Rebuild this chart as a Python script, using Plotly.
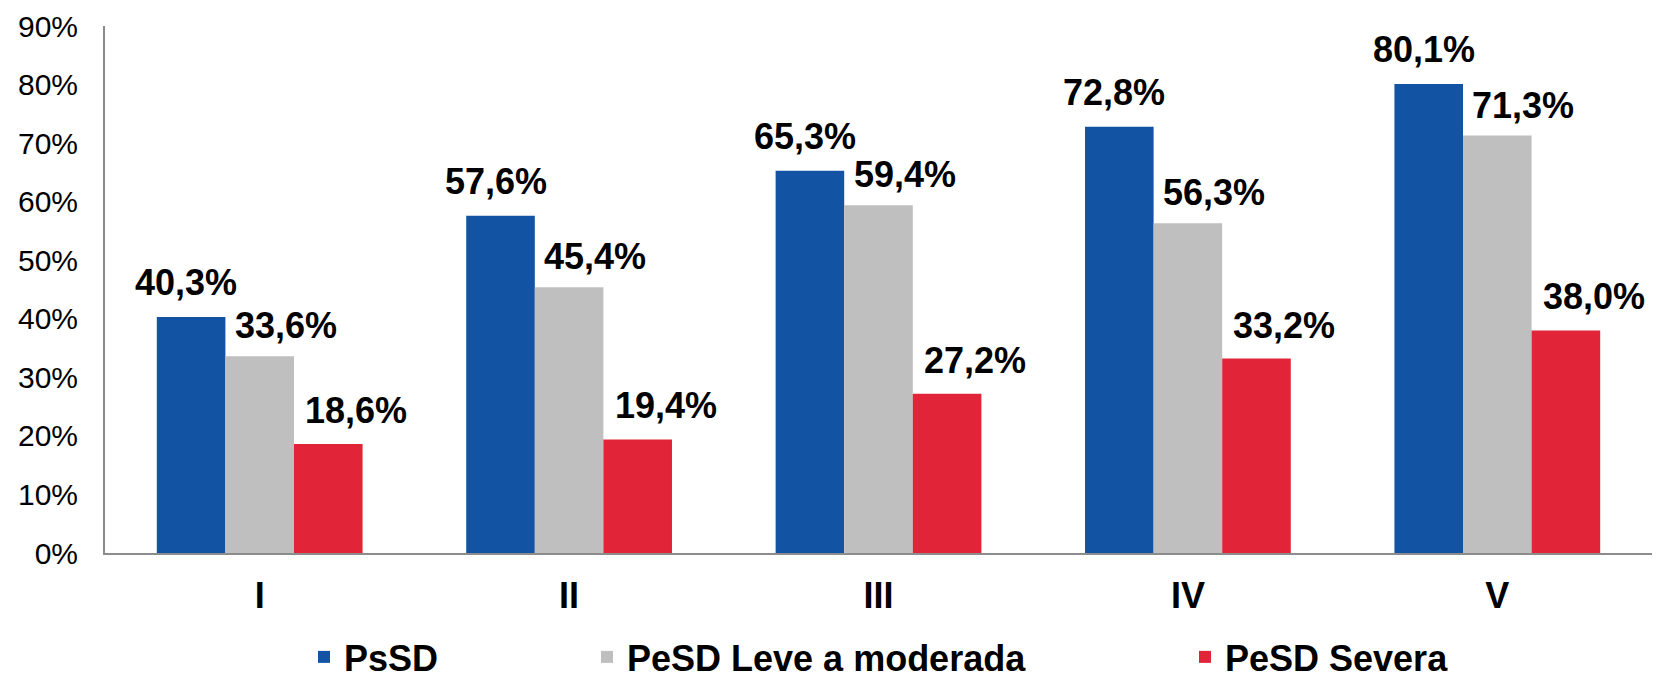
import plotly.graph_objects as go

# ---------------- data ----------------
categories = ["I", "II", "III", "IV", "V"]
psd = [40.3, 57.6, 65.3, 72.8, 80.1]
pesd_leve = [33.6, 45.4, 59.4, 56.3, 71.3]
pesd_severa = [18.6, 19.4, 27.2, 33.2, 38.0]
series_names = ["PsSD", "PeSD Leve a moderada", "PeSD Severa"]
y_tick_values = [0, 10, 20, 30, 40, 50, 60, 70, 80, 90]
y_tick_labels = [f"{v}%" for v in y_tick_values]

# ---------------- style / layout ----------------
W, H = 1661, 678
ML, MR, MT, MB = 105, 9, 26, 125
BARGAP = 0.335
FONT = "Liberation Sans, Arial, sans-serif"
colors = ["#1254A3", "#BFBFBF", "#E12438"]
label_dx = [-5, 26, 28]      # horizontal nudge of value labels per series (px)
label_dy = [12, 8, 11]       # vertical nudge of value labels per series (px)
legend_x_px = [304, 587, 1185]

plot_w = W - ML - MR
cat_w = plot_w / len(categories)
bar_w = cat_w * (1 - BARGAP) / 3
bar_off = [-bar_w, 0, bar_w]

series = [psd, pesd_leve, pesd_severa]
legend_ids = ["legend", "legend2", "legend3"]

fig = go.Figure()
annotations = []
for i, (name, vals) in enumerate(zip(series_names, series)):
    fig.add_trace(go.Bar(
        x=categories, y=vals, name=name,
        marker=dict(color=colors[i], line=dict(width=0)),
        legend=legend_ids[i],
        hoverinfo="skip",
    ))
    for c, v in zip(categories, vals):
        annotations.append(dict(
            x=c, y=v, xref="x", yref="y",
            text=f"{v:.1f}".replace(".", ",") + "%",
            showarrow=False, xanchor="center", yanchor="bottom",
            xshift=bar_off[i] + label_dx[i], yshift=label_dy[i],
            font=dict(family=FONT, size=36, color="#000000", weight="bold"),
        ))

legend_common = dict(
    orientation="h", xanchor="left", yanchor="middle",
    yref="container", y=0.031,
    font=dict(family=FONT, size=36, color="#000000", weight="bold"),
    bgcolor="rgba(0,0,0,0)", borderwidth=0,
)
layout_legends = {}
for lid, px in zip(legend_ids, legend_x_px):
    layout_legends[lid] = dict(legend_common, x=(px - ML) / plot_w)

fig.update_layout(
    width=W, height=H,
    margin=dict(l=ML, r=MR, t=MT, b=MB, pad=0, autoexpand=False),
    paper_bgcolor="white", plot_bgcolor="white",
    barmode="group", bargap=BARGAP, bargroupgap=0,
    showlegend=True,
    annotations=annotations,
    font=dict(family=FONT, color="#000000"),
    **layout_legends,
)
fig.update_xaxes(
    type="category",
    showline=True, linecolor="#8C8C8C", linewidth=2,
    showgrid=False, zeroline=False, ticks="",
    ticklabelstandoff=10,
    tickfont=dict(family=FONT, size=36, color="#000000", weight="bold"),
    fixedrange=True,
)
fig.update_yaxes(
    range=[0, 90], tickmode="array", tickvals=y_tick_values, ticktext=y_tick_labels,
    showline=True, linecolor="#8C8C8C", linewidth=2,
    showgrid=False, zeroline=False, ticks="",
    ticklabelstandoff=19,
    tickfont=dict(family=FONT, size=30, color="#000000"),
    fixedrange=True,
)

post_script = (
    "document.body.style.margin='0';"
    "var gd=document.getElementById('{plot_id}');"
    "function fixLeg(){gd.querySelectorAll('path.legendbar').forEach(function(p){"
    "p.setAttribute('d','M9.5,9.5H-9.5V-9.5H9.5Z');});}"
    "fixLeg(); gd.on('plotly_afterplot', fixLeg);"
)
fig.write_html("out.html", post_script=post_script, config={"displayModeBar": False})
